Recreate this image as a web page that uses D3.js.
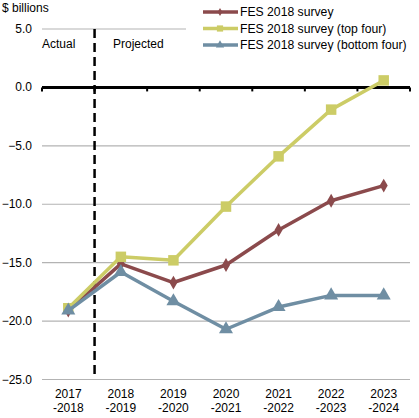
<!DOCTYPE html>
<html>
<head>
<meta charset="utf-8">
<script src="https://cdn.jsdelivr.net/npm/d3@7"></script>
<style>
  body { margin: 0; background: #ffffff; }
  svg text { font-family: "Liberation Sans", Arial, sans-serif; }
</style>
</head>
<body>
<div id="chart"></div>
<script>
var years = ['2017\n-2018', '2018\n-2019', '2019\n-2020', '2020\n-2021', '2021\n-2022', '2022\n-2023', '2023\n-2024']
var surveyAll = [-19.1, -15.1, -16.7, -15.2, -12.2, -9.7, -8.4]
var surveyTop = [-18.9, -14.5, -14.8, -10.2, -5.9, -1.9, 0.6]
var surveyBottom = [-19.1, -15.8, -18.3, -20.7, -18.8, -17.8, -17.8]
var yTicks = [5, 0, -5, -10, -15, -20, -25]
var seriesNames = ['FES 2018 survey', 'FES 2018 survey (top four)', 'FES 2018 survey (bottom four)']

var chart = (function(){

    var width = 419
    var height = 418
    var left = 42
    var right = 410
    var top = 29
    var bottom = 379.5

    var series = [
        {name: seriesNames[0], values: surveyAll, color: '#8b4a4c', symbol: d3.symbolDiamond, size: 55},
        {name: seriesNames[1], values: surveyTop, color: '#cccc66', symbol: d3.symbolSquare, size: 110},
        {name: seriesNames[2], values: surveyBottom, color: '#6f8ea3', symbol: d3.symbolTriangle, size: 85}
    ]

    function drawGrid(svg, y){
        svg.append('g')
            .selectAll('line')
            .data(yTicks.filter(function(t){ return t !== 0 }))
            .enter()
            .append('line')
            .attr('x1', left)
            .attr('x2', right)
            .attr('y1', function(d){ return y(d) })
            .attr('y2', function(d){ return y(d) })
            .attr('stroke', '#b3b3b3')
            .attr('stroke-width', 1.2)

        svg.append('g')
            .selectAll('text')
            .data(yTicks)
            .enter()
            .append('text')
            .attr('x', 32)
            .attr('y', function(d){ return y(d) + 4 })
            .attr('text-anchor', 'end')
            .attr('font-size', 12)
            .attr('fill', '#000')
            .text(function(d){ return d3.format('.1f')(d) })
    }

    function drawZeroAxis(svg, x, y){
        var bounds = x.domain().map(function(d){ return x(d) })
        bounds.push(right)

        svg.append('line')
            .attr('x1', left)
            .attr('x2', right)
            .attr('y1', y(0))
            .attr('y2', y(0))
            .attr('stroke', '#000')
            .attr('stroke-width', 3)

        svg.append('g')
            .selectAll('line')
            .data(bounds)
            .enter()
            .append('line')
            .attr('x1', function(d){ return d })
            .attr('x2', function(d){ return d })
            .attr('y1', y(0))
            .attr('y2', y(0) + 4)
            .attr('stroke', '#000')
            .attr('stroke-width', 2)
    }

    function drawCategories(svg, x){
        var g = svg.append('g')
            .selectAll('text')
            .data(years)
            .enter()
            .append('text')
            .attr('text-anchor', 'middle')
            .attr('font-size', 12)
            .attr('fill', '#000')

        g.append('tspan')
            .attr('x', function(d){ return x(d) + x.bandwidth() / 2 })
            .attr('y', 398)
            .text(function(d){ return d.split('\n')[0] })

        g.append('tspan')
            .attr('x', function(d){ return x(d) + x.bandwidth() / 2 })
            .attr('y', 412)
            .text(function(d){ return d.split('\n')[1] })
    }

    function drawSeries(svg, x, y){
        var cx = function(i){ return x(years[i]) + x.bandwidth() / 2 }

        series.forEach(function(s){
            var line = d3.line()
                .x(function(d, i){ return cx(i) })
                .y(function(d){ return y(d) })

            svg.append('path')
                .attr('d', line(s.values))
                .attr('fill', 'none')
                .attr('stroke', s.color)
                .attr('stroke-width', 3.5)
                .attr('stroke-linejoin', 'round')

            svg.append('g')
                .selectAll('path')
                .data(s.values)
                .enter()
                .append('path')
                .attr('d', d3.symbol().type(s.symbol).size(s.size))
                .attr('transform', function(d, i){ return 'translate(' + cx(i) + ',' + y(d) + ')' })
                .attr('fill', s.color)
        })
    }

    function drawLegend(svg){
        svg.append('rect')
            .attr('x', 186)
            .attr('y', 2)
            .attr('width', 230)
            .attr('height', 50)
            .attr('fill', '#ffffff')

        var rows = svg.append('g')
            .selectAll('g')
            .data(series)
            .enter()
            .append('g')
            .attr('transform', function(d, i){ return 'translate(0,' + (12 + i * 16.5) + ')' })

        rows.append('line')
            .attr('x1', 203)
            .attr('x2', 238)
            .attr('stroke', function(d){ return d.color })
            .attr('stroke-width', 3.5)

        rows.append('path')
            .attr('d', function(d){ return d3.symbol().type(d.symbol).size(d.size * 0.35)() })
            .attr('transform', 'translate(220,0)')
            .attr('fill', function(d){ return d.color })

        rows.append('text')
            .attr('x', 240)
            .attr('y', 4)
            .attr('font-size', 12.2)
            .attr('fill', '#000')
            .text(function(d){ return d.name })
    }

    return {
        create: function(elementId){
            var svg = d3.select('#' + elementId).append('svg')
                .attr('width', width)
                .attr('height', height)

            var x = d3.scaleBand().domain(years).range([left, right])
            var y = d3.scaleLinear().domain([-25, 5]).range([bottom, top])

            drawGrid(svg, y)
            drawLegend(svg)

            // actual / projected divider
            svg.append('line')
                .attr('x1', x(years[1]))
                .attr('x2', x(years[1]))
                .attr('y1', top)
                .attr('y2', bottom - 2)
                .attr('stroke', '#000')
                .attr('stroke-width', 2.5)
                .attr('stroke-dasharray', '9,5')

            svg.append('text')
                .attr('x', 42).attr('y', 48)
                .attr('font-size', 12)
                .text('Actual')
            svg.append('text')
                .attr('x', 113).attr('y', 48)
                .attr('font-size', 12)
                .text('Projected')
            svg.append('text')
                .attr('x', 2).attr('y', 12)
                .attr('font-size', 12)
                .text('$ billions')

            drawZeroAxis(svg, x, y)
            drawSeries(svg, x, y)
            drawCategories(svg, x)
        }
    }
})()

chart.create('chart')
</script>
</body>
</html>
